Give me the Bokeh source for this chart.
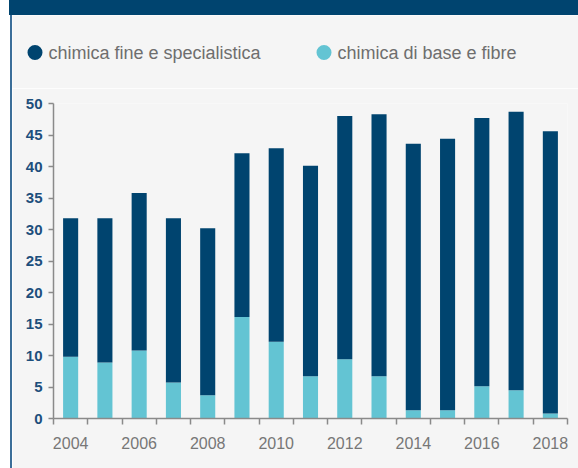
from bokeh.plotting import figure
from bokeh.models import ColumnDataSource, FixedTicker, CustomJSTickFormatter, Div, Range1d
from bokeh.layouts import column, row
from bokeh.core.properties import value
from bokeh.embed import file_html
from bokeh.resources import INLINE

years = [2004, 2005, 2006, 2007, 2008, 2009, 2010, 2011, 2012, 2013, 2014, 2015, 2016, 2017, 2018]
base_fibre = [9.8, 8.9, 10.8, 5.7, 3.7, 16.1, 12.2, 6.7, 9.4, 6.7, 1.3, 1.3, 5.1, 4.5, 0.8]
fine_spec = [22.0, 22.9, 25.0, 26.1, 26.5, 26.0, 30.7, 33.4, 38.6, 41.6, 42.3, 43.1, 42.6, 44.2, 44.8]
series_names = ["chimica fine e specialistica", "chimica di base e fibre"]
y_ticks = [0, 5, 10, 15, 20, 25, 30, 35, 40, 45, 50]
x_label_years = [2004, 2006, 2008, 2010, 2012, 2014, 2016, 2018]

DARK = "#00446f"
LIGHT = "#63c4d3"
BG = "#f5f5f5"
EDGE = "#3b6e99"

# ---------- main chart ----------
src = ColumnDataSource(dict(x=years, base=base_fibre, fine=fine_spec))

p = figure(width=566, height=380, output_backend="svg", toolbar_location=None,
           x_range=(years[0] - 0.5, years[-1] + 0.5), y_range=(0, 50),
           min_border_left=41, min_border_right=11, min_border_top=15, min_border_bottom=50,
           margin=0)
p.background_fill_color = BG
p.border_fill_color = BG
p.outline_line_color = None
p.grid.visible = False

p.vbar_stack(["base", "fine"], x="x", width=0.44, source=src, color=[LIGHT, DARK], line_color=None)

p.yaxis.ticker = FixedTicker(ticks=y_ticks)
p.yaxis.axis_line_color = "#8a8a8a"
p.yaxis.axis_line_width = 1.5
p.yaxis.major_tick_line_color = "#8a8a8a"
p.yaxis.major_tick_line_width = 1.5
p.yaxis.major_tick_out = 5
p.yaxis.major_tick_in = 0
p.yaxis.minor_tick_line_color = None
p.yaxis.major_label_text_font = "Liberation Sans"
p.yaxis.major_label_text_font_size = "15px"
p.yaxis.major_label_text_font_style = "bold"
p.yaxis.major_label_text_color = "#1d4f7c"
p.yaxis.major_label_standoff = 6

boundaries = [y - 0.5 for y in years] + [years[-1] + 0.5]
p.xaxis.ticker = FixedTicker(ticks=x_label_years, minor_ticks=boundaries)
p.xaxis.axis_line_color = "#8a8a8a"
p.xaxis.axis_line_width = 1.5
p.xaxis.major_tick_line_color = None
p.xaxis.minor_tick_line_color = "#8a8a8a"
p.xaxis.minor_tick_line_width = 1.5
p.xaxis.minor_tick_out = 6
p.xaxis.minor_tick_in = 0
p.xaxis.major_label_text_font = "Liberation Sans"
p.xaxis.major_label_text_font_size = "16px"
p.xaxis.major_label_text_color = "#777777"
p.xaxis.major_label_standoff = 12
p.xaxis.formatter = CustomJSTickFormatter(code="return String(Math.round(tick));")

# ---------- legend strip ----------
leg = figure(width=566, height=73, output_backend="svg", toolbar_location=None,
             x_range=Range1d(0, 566), y_range=Range1d(73, 0),
             x_axis_type=None, y_axis_type=None,
             min_border_left=0, min_border_right=0, min_border_top=0, min_border_bottom=0,
             margin=0)
leg.background_fill_color = BG
leg.border_fill_color = BG
leg.outline_line_color = None
leg.grid.visible = False
leg_src = ColumnDataSource(dict(cx=[22.5, 311.5], tx=[36, 325], y=[37, 37],
                                color=[DARK, LIGHT], name=series_names))
leg.scatter(x="cx", y="y", size=15, marker="circle", color="color", line_color=None, source=leg_src)
leg.text(x="tx", y="y", text="name", source=leg_src, text_font=value("Liberation Sans"),
         text_font_size="18px", text_color="#6e6e6e", text_baseline="middle", text_align="left")

# ---------- header & left border ----------
edge_style = {"background": f"linear-gradient(to right, #ffffff 0px, #ffffff 1px, {EDGE} 1px, {EDGE} 3px)"}
spacer = Div(text="", width=9, height=468, margin=0, styles={"background-color": "#ffffff"})
header = Div(text="", width=569, height=15, margin=0, styles={"background-color": DARK})
border1 = Div(text="", width=3, height=73, margin=0, styles=edge_style)
border2 = Div(text="", width=3, height=380, margin=0, styles=edge_style)

layout = row(spacer,
             column(header,
                    row(border1, leg, spacing=0, margin=0),
                    row(border2, p, spacing=0, margin=0),
                    spacing=0, margin=0),
             spacing=0, margin=0)

open("out.html", "w").write(file_html(layout, INLINE))
